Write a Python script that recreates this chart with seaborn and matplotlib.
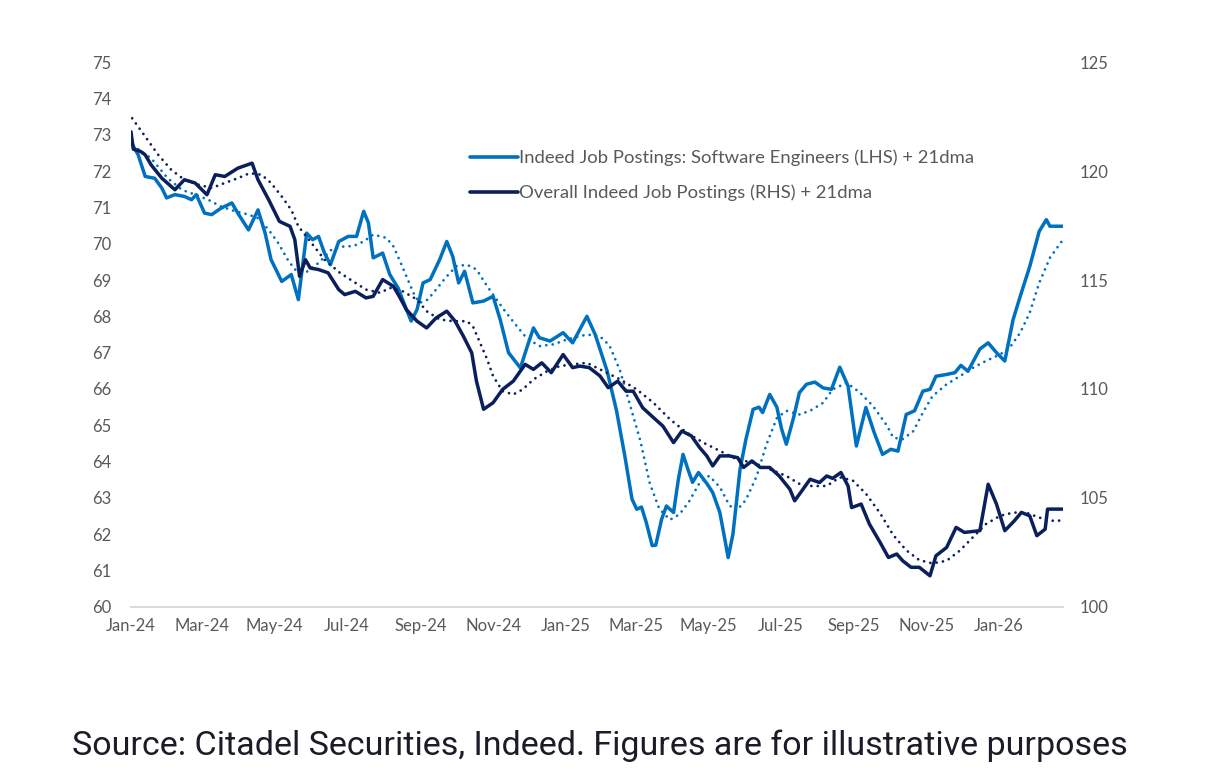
import pandas as pd
import seaborn as sns
import matplotlib.pyplot as plt
import matplotlib.dates as mdates
from matplotlib.lines import Line2D

# all dates are days since 1 Jan 2024
start = pd.Timestamp('2024-01-01')

# Indeed job postings: software engineers (LHS)
se_day = [0, 6, 12, 20, 26, 30, 37, 45, 51, 55, 62, 68, 76, 85, 90, 99, 107, 113, 118, 127,
          135, 141, 148, 153, 158, 163, 168, 175, 183, 190, 196, 200, 204, 212, 218, 225, 232, 236, 241, 246,
          252, 260, 266, 271, 276, 281, 288, 297, 305, 311, 318, 328, 333, 339, 344, 353, 364, 372, 384, 391,
          401, 409, 416, 422, 426, 430, 434, 439, 442, 447, 451, 457, 461, 465, 469, 473, 478, 485, 490, 496,
          500, 503, 507, 513, 518, 524, 529, 532, 538, 544, 548, 552, 558, 563, 569, 576, 583, 590, 597, 604,
          611, 619, 626, 633, 640, 646, 653, 660, 667, 673, 678, 687, 694, 699, 705, 715, 722, 729, 736, 743,
          749, 757, 765, 771, 774, 785]
se_val = [72.8, 72.45, 71.85, 71.8, 71.53, 71.26, 71.35, 71.3, 71.21, 71.35, 70.84, 70.8, 70.98, 71.12, 70.84, 70.38, 70.93, 70.29, 69.56, 68.96,
          69.15, 68.46, 70.29, 70.11, 70.2, 69.74, 69.42, 70.06, 70.2, 70.2, 70.89, 70.57, 69.61, 69.74, 69.15, 68.78, 68.19, 67.87, 68.19, 68.92,
          69.01, 69.56, 70.06, 69.65, 68.92, 69.24, 68.37, 68.42, 68.55, 67.91, 67.0, 66.58, 67.09, 67.68, 67.41, 67.32, 67.55, 67.27, 68.0, 67.5,
          66.5, 65.4, 64.15, 62.97, 62.69, 62.75, 62.33, 61.69, 61.7, 62.42, 62.78, 62.6, 63.5, 64.2, 63.8, 63.43, 63.7, 63.4, 63.15, 62.6,
          61.9, 61.36, 62.0, 63.79, 64.62, 65.44, 65.5, 65.35, 65.85, 65.5, 64.9, 64.48, 65.2, 65.9, 66.13, 66.19, 66.03, 65.99, 66.6, 66.08,
          64.43, 65.49, 64.8, 64.2, 64.34, 64.29, 65.3, 65.4, 65.94, 65.99, 66.35, 66.4, 66.45, 66.65, 66.49, 67.1, 67.27, 67.0, 66.77, 67.91,
          68.55, 69.37, 70.34, 70.66, 70.48, 70.48]

se_ma_day = [6, 17, 31, 43, 54, 65, 76, 88, 99, 107, 116, 124, 132, 138, 147, 158, 169, 180, 187, 196,
             204, 215, 221, 226, 232, 238, 243, 250, 257, 266, 274, 283, 291, 300, 308, 316, 325, 333, 344, 356,
             367, 384, 395, 403, 412, 420, 429, 437, 445, 454, 462, 470, 479, 487, 496, 504, 510, 518, 527, 535,
             544, 552, 563, 572, 583, 591, 603, 614, 625, 637, 642, 650, 659, 667, 675, 687, 698, 709, 720, 732,
             740, 749, 757, 765, 774, 785]
se_ma_val = [72.6, 72.35, 71.8, 71.48, 71.35, 71.21, 71.02, 70.89, 70.8, 70.7, 70.38, 70.02, 69.56, 69.29, 69.2, 69.47, 69.84, 69.93, 69.93, 70.06,
             70.25, 70.16, 69.93, 69.56, 69.1, 68.64, 68.37, 68.46, 68.74, 69.1, 69.38, 69.42, 69.29, 68.83, 68.46, 68.1, 67.73, 67.41, 67.18, 67.23,
             67.36, 67.5, 67.45, 67.2, 66.5, 65.6, 64.58, 63.4, 62.7, 62.4, 62.55, 62.9, 63.42, 63.61, 63.3, 62.8, 62.65, 62.95, 63.6, 64.45,
             65.2, 65.4, 65.3, 65.4, 65.62, 65.99, 66.17, 65.9, 65.53, 64.98, 64.66, 64.62, 64.84, 65.35, 65.8, 66.13, 66.35, 66.58, 66.77, 66.95,
             67.13, 67.55, 68.1, 68.92, 69.61, 70.11]

# overall Indeed job postings (RHS)
all_day = [0, 2, 8, 12, 17, 26, 37, 45, 54, 64, 71, 79, 90, 102, 107, 116, 125, 134, 138, 142,
           147, 151, 158, 166, 175, 180, 189, 198, 204, 212, 221, 226, 232, 241, 249, 257, 266, 273, 280, 287,
           291, 297, 305, 313, 322, 332, 339, 346, 354, 364, 372, 378, 386, 395, 402, 410, 417, 423, 431, 440,
           448, 457, 464, 472, 479, 485, 490, 496, 504, 511, 516, 523, 530, 538, 546, 555, 559, 566, 572, 580,
           586, 591, 598, 604, 607, 615, 622, 631, 638, 645, 650, 657, 664, 673, 678, 687, 695, 702, 715, 722,
           729, 736, 744, 750, 757, 763, 770, 772, 785]
all_val = [121.8, 121.0, 120.9, 120.74, 120.28, 119.67, 119.14, 119.6, 119.45, 118.91, 119.83, 119.75, 120.13, 120.36, 119.6, 118.68, 117.69, 117.46, 116.85, 115.17,
           115.93, 115.55, 115.48, 115.33, 114.56, 114.33, 114.48, 114.18, 114.25, 115.02, 114.71, 114.25, 113.64, 113.11, 112.8, 113.26, 113.57, 113.11, 112.42, 111.66,
           110.36, 109.07, 109.37, 109.98, 110.36, 111.13, 110.9, 111.2, 110.75, 111.58, 110.98, 111.05, 110.98, 110.6, 110.06, 110.36, 109.9, 109.9, 109.14, 108.69,
           108.3, 107.54, 108.07, 107.85, 107.31, 106.93, 106.47, 106.93, 106.93, 106.85, 106.4, 106.7, 106.4, 106.4, 106.01, 105.4, 104.87, 105.4, 105.86, 105.71,
           106.01, 105.9, 106.17, 105.55, 104.56, 104.72, 103.8, 102.96, 102.27, 102.43, 102.12, 101.82, 101.82, 101.43, 102.35, 102.73, 103.65, 103.42, 103.5, 105.63,
           104.72, 103.5, 103.95, 104.34, 104.18, 103.27, 103.57, 104.49, 104.49]

all_ma_day = [1, 12, 23, 34, 45, 57, 68, 79, 90, 100, 110, 118, 127, 135, 141, 152, 163, 176, 187, 198,
              210, 218, 229, 241, 249, 260, 271, 283, 288, 294, 300, 305, 313, 322, 330, 339, 350, 361, 372, 384,
              398, 412, 426, 440, 454, 468, 482, 496, 510, 524, 538, 552, 566, 586, 597, 608, 619, 631, 642, 653,
              664, 675, 687, 698, 709, 720, 732, 743, 754, 765, 777, 785]
all_ma_val = [122.42, 121.58, 120.74, 120.05, 119.6, 119.37, 119.22, 119.45, 119.67, 119.9, 119.83, 119.45, 118.83, 118.22, 117.46, 116.7, 115.93, 115.33, 114.94, 114.56,
              114.41, 114.64, 114.48, 114.1, 113.57, 113.19, 113.11, 113.11, 112.88, 112.12, 111.36, 110.59, 109.9, 109.75, 109.98, 110.44, 110.8, 111.05, 111.13, 111.2,
              110.82, 110.44, 109.98, 109.37, 108.61, 108.0, 107.54, 107.16, 106.78, 106.62, 106.32, 106.01, 105.55, 105.55, 105.95, 105.8, 105.2, 104.3, 103.3, 102.6,
              102.15, 102.0, 102.12, 102.58, 103.19, 103.8, 104.18, 104.33, 104.33, 104.1, 103.95, 103.97]

labels = ['Indeed Job Postings: Software Engineers (LHS) + 21dma',
          'Overall Indeed Job Postings (RHS) + 21dma']


def frame(days, vals):
    return pd.DataFrame({'date': start + pd.to_timedelta(days, unit='D'), 'value': vals})


light = '#0070C0'
navy = '#0A1F5C'
grey = '#595959'

sns.set_style('white')
plt.rcParams['font.family'] = ['Lato', 'DejaVu Sans']

fig = plt.figure(figsize=(12.06, 7.83), dpi=100)
ax = fig.add_axes([0.1086, 0.2248, 0.7728, 0.696])
ax2 = ax.twinx()

dots = dict(linestyle=(0, (0.01, 2.3)), dash_capstyle='round', linewidth=2.0)
sns.lineplot(data=frame(se_ma_day, se_ma_val), x='date', y='value', ax=ax, color=light, **dots)
sns.lineplot(data=frame(se_day, se_val), x='date', y='value', ax=ax, color=light, linewidth=2.5)
sns.lineplot(data=frame(all_ma_day, all_ma_val), x='date', y='value', ax=ax2, color=navy, **dots)
sns.lineplot(data=frame(all_day, all_val), x='date', y='value', ax=ax2, color=navy, linewidth=2.5)

ax.set_xlim(start, start + pd.Timedelta(days=785))
ax.set_ylim(60, 75)
ax.set_yticks(range(60, 76))
ax2.set_ylim(100, 125)
ax2.set_yticks(range(100, 126, 5))

ax.xaxis.set_major_locator(mdates.MonthLocator(bymonth=[1, 3, 5, 7, 9, 11]))
ax.xaxis.set_major_formatter(mdates.DateFormatter('%b-%y'))

for a in (ax, ax2):
    a.set_xlabel('')
    a.set_ylabel('')
    for s in ('top', 'left', 'right'):
        a.spines[s].set_visible(False)
    a.spines['bottom'].set_color('#d9d9d9')
    a.spines['bottom'].set_linewidth(1.2)
    a.tick_params(axis='y', length=0, labelsize=12, labelcolor=grey)
ax.tick_params(axis='y', pad=14)
ax2.tick_params(axis='y', pad=12)
ax.tick_params(axis='x', length=5, width=1.2, color='#d9d9d9', labelsize=12, labelcolor=grey, pad=3)

handles = [Line2D([], [], color=light, linewidth=2.6), Line2D([], [], color=navy, linewidth=2.6)]
fig.legend(handles, labels, loc='upper left', bbox_to_anchor=(0.390, 0.809), frameon=False,
           fontsize=13.3, labelcolor=grey, handlelength=2.6, handletextpad=0.05, labelspacing=1.0,
           borderaxespad=0, borderpad=0)

fig.text(0.0597, 0.047, 'Source: Citadel Securities, Indeed. Figures are for illustrative purposes',
         fontsize=24.5, color='#1c1c28', ha='left', va='center', family=['Roboto', 'DejaVu Sans'])

fig.savefig('out.png', dpi=100, facecolor='white')
